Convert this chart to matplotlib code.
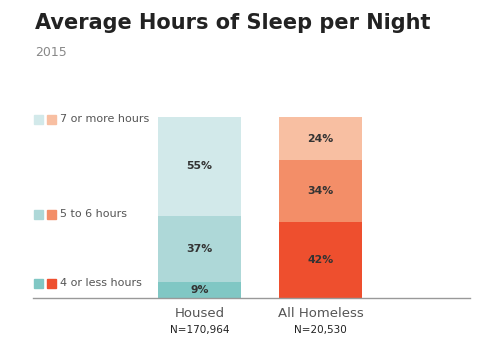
import matplotlib
matplotlib.use("Agg")
import matplotlib.pyplot as plt
import numpy as np

groups = ["Housed", "All Homeless"]
group_n = ["N=170,964", "N=20,530"]
categories = ["4 or less hours", "5 to 6 hours", "7 or more hours"]
housed = [9, 37, 55]
homeless = [42, 34, 24]

housed_colors = ["#80C7C4", "#AED8D8", "#D2E9EA"]
homeless_colors = ["#EE4F2E", "#F38E68", "#F8BFA2"]

W, H = 503, 345
fig = plt.figure(figsize=(W/100, H/100), dpi=100)
ax = fig.add_axes([33/W, 1-298/H, (470-33)/W, (298-117)/H])

x = np.arange(len(groups))
width = 0.686
series = [housed, homeless]
colors = [housed_colors, homeless_colors]
for i, vals in enumerate(series):
    total = sum(vals)
    bottom = 0
    for j, v in enumerate(vals):
        h = v / total * 100
        ax.bar(x[i], h, width=width, bottom=bottom, color=colors[i][j], edgecolor="none")
        ax.text(x[i], bottom + h/2, f"{v}%", ha="center", va="center",
                fontsize=7.8, fontweight="bold", color="#333333")
        bottom += h

ax.set_xlim(-1.376, 2.236)
ax.set_ylim(0, 100)
for s in ["top", "right", "left"]:
    ax.spines[s].set_visible(False)
ax.spines["bottom"].set_color("#999999")
ax.spines["bottom"].set_linewidth(1)
ax.set_yticks([])
ax.set_xticks([])

# x labels
for i in range(len(groups)):
    ax.text(x[i], -8.3, groups[i], ha="center", va="center", fontsize=9.5,
            color="#555555", clip_on=False)
    ax.text(x[i], -17.7, group_n[i], ha="center", va="center", fontsize=7.5,
            color="#222222", clip_on=False)

# legend (pixel layout positions)
legend_y_px = [283, 214, 119]
for j, cat in enumerate(categories):
    yf = 1 - legend_y_px[j] / H
    fig.patches.append(plt.Rectangle((34/W, yf - 4.5/H), 9/W, 9/H,
                                     transform=fig.transFigure, color=housed_colors[j], figure=fig))
    fig.patches.append(plt.Rectangle((47/W, yf - 4.5/H), 9/W, 9/H,
                                     transform=fig.transFigure, color=homeless_colors[j], figure=fig))
    fig.text(60/W, yf, cat, ha="left", va="center", fontsize=8, color="#555555")

fig.text(35/W, 1-23/H, "Average Hours of Sleep per Night", ha="left", va="center",
         fontsize=15, fontweight="bold", color="#222222")
fig.text(35/W, 1-53/H, "2015", ha="left", va="center", fontsize=9, color="#888888")

fig.savefig("out.png", dpi=100)
